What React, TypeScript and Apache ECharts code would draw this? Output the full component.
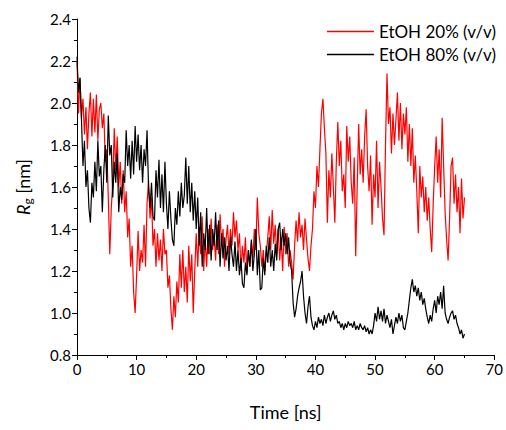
import React, { useEffect, useRef } from "react";
import * as echarts from "echarts";

// Sampling step of both trajectories (ns)
const TIME_STEP = 0.25;

// Radius of gyration, EtOH 20% (v/v), one value every 0.25 ns from 0 to 65 ns
const RG_ETOH20: number[] = [
  2.20, 1.95, 2.12, 1.93,
  2.02, 1.85, 1.98, 1.78,
  1.95, 2.05, 1.84, 2.02,
  1.86, 2.04, 1.82, 1.97,
  2.00, 1.88, 1.95, 1.72,
  1.78, 1.55, 1.28, 1.50,
  1.62, 1.88, 1.68, 1.84,
  1.60, 1.72, 1.52, 1.68,
  1.48, 1.58, 1.36, 1.45,
  1.22, 1.32, 1.10, 1.00,
  1.18, 1.39, 1.20, 1.30,
  1.24, 1.42, 1.22, 1.52,
  1.63, 1.45, 1.55, 1.32,
  1.40, 1.22, 1.38, 1.25,
  1.35, 1.20, 1.40, 1.28,
  1.30, 1.12, 1.18, 1.02,
  0.92, 1.08, 0.98, 1.15,
  1.05, 1.28, 1.12, 1.30,
  1.10, 1.22, 1.05, 1.32,
  1.15, 1.28, 1.00, 1.20,
  1.38, 1.22, 1.41, 1.28,
  1.46, 1.20, 1.35, 1.22,
  1.40, 1.28, 1.45, 1.30,
  1.38, 1.25, 1.42, 1.28,
  1.47, 1.32, 1.40, 1.22,
  1.35, 1.42, 1.28, 1.40,
  1.32, 1.48, 1.36, 1.44,
  1.30, 1.38, 1.20, 1.32,
  1.24, 1.36, 1.19, 1.30,
  1.22, 1.34, 1.26, 1.40,
  1.30, 1.55, 1.38, 1.32,
  1.22, 1.30, 1.20, 1.28,
  1.36, 1.46, 1.30, 1.49,
  1.33, 1.42, 1.28, 1.40,
  1.25, 1.36, 1.20, 1.41,
  1.28, 1.38, 1.22, 1.30,
  1.24, 1.16, 1.32, 1.44,
  1.34, 1.48, 1.36, 1.42,
  1.30, 1.45, 1.35, 1.26,
  1.20, 1.32, 1.40, 1.58,
  1.50, 1.70, 1.60, 1.78,
  1.95, 2.02, 1.88, 1.76,
  1.43, 1.68, 1.55, 1.76,
  1.60, 1.43, 1.72, 1.91,
  1.70, 1.82, 1.58, 1.66,
  1.50, 1.89, 1.72, 1.84,
  1.62, 1.52, 1.74, 1.27,
  1.60, 1.90, 1.66, 1.78,
  1.62, 1.84, 1.97, 1.70,
  1.58, 1.75, 1.42, 1.66,
  1.55, 1.82, 1.50, 1.72,
  1.60, 1.45, 1.37, 1.80,
  2.14, 1.90, 1.98, 1.76,
  1.95, 1.80, 1.92, 2.05,
  1.82, 2.00, 1.78, 1.95,
  1.85, 1.98, 1.72, 1.90,
  1.70, 1.88, 1.62, 1.75,
  1.58, 1.38, 1.70, 1.55,
  1.65, 1.48, 1.60, 1.44,
  1.55, 1.40, 1.29, 1.52,
  1.70, 1.84, 1.62, 1.78,
  1.55, 1.93, 1.70, 1.48,
  1.35, 1.25, 1.45, 1.70,
  1.74, 1.52, 1.66, 1.48,
  1.60, 1.38, 1.64, 1.45,
  1.55,
];

// Radius of gyration, EtOH 80% (v/v), one value every 0.25 ns from 0 to 65 ns
const RG_ETOH80: number[] = [
  2.22, 2.05, 2.12, 1.92,
  1.70, 1.82, 1.60, 1.68,
  1.50, 1.43, 1.62, 1.55,
  1.72, 1.58, 1.82, 1.65,
  1.70, 1.48, 1.68, 1.80,
  1.62, 1.94, 1.75, 1.80,
  1.55, 1.72, 1.62, 1.76,
  1.48, 1.60, 1.54, 1.66,
  1.62, 1.87, 1.70, 1.80,
  1.64, 1.82, 1.66, 1.89,
  1.72, 1.85, 1.68, 1.80,
  1.62, 1.78, 1.70, 1.87,
  1.60, 1.50, 1.62, 1.46,
  1.44, 1.68, 1.55, 1.73,
  1.50, 1.66, 1.48, 1.72,
  1.52, 1.40, 1.58, 1.45,
  1.35, 1.32, 1.50, 1.42,
  1.58, 1.46, 1.62, 1.50,
  1.56, 1.74, 1.52, 1.70,
  1.48, 1.62, 1.44, 1.58,
  1.40, 1.55, 1.32, 1.48,
  1.22, 1.38, 1.30, 1.50,
  1.28, 1.42, 1.25, 1.40,
  1.32, 1.48, 1.30, 1.44,
  1.22, 1.38, 1.26, 1.36,
  1.25, 1.32, 1.20, 1.36,
  1.28, 1.22, 1.34, 1.20,
  1.30, 1.18, 1.26, 1.14,
  1.12, 1.24, 1.18, 1.30,
  1.22, 1.35, 1.20, 1.28,
  1.40, 1.18, 1.30, 1.11,
  1.12, 1.26, 1.18, 1.32,
  1.24, 1.36, 1.22, 1.30,
  1.20, 1.33, 1.25, 1.40,
  1.43, 1.30, 1.40, 1.32,
  1.38, 1.28, 1.36, 1.24,
  1.20, 1.05, 0.98, 1.02,
  1.08, 1.12, 1.15, 1.20,
  1.08, 1.00, 0.95, 1.03,
  1.08, 0.98, 0.94, 0.92,
  0.96, 0.93, 0.98, 0.95,
  0.97, 0.94, 0.99, 0.95,
  0.98, 1.00, 0.96, 0.99,
  1.01, 0.97, 0.99, 0.95,
  0.96, 0.93, 0.95, 0.92,
  0.95, 0.93, 0.96, 0.94,
  0.95, 0.93, 0.96, 0.92,
  0.94, 0.92, 0.95, 0.93,
  0.92, 0.94, 0.91, 0.93,
  0.90, 0.92, 0.90, 0.94,
  1.00, 0.96, 1.03, 0.97,
  1.01, 0.96, 1.02, 0.95,
  0.99, 0.96, 0.93, 0.97,
  0.90, 0.94, 0.98, 0.95,
  1.00, 0.96, 0.99, 0.93,
  0.92, 0.96, 1.00, 1.06,
  1.12, 1.16, 1.10, 1.13,
  1.08, 1.12, 1.06, 1.10,
  1.04, 1.07, 1.02, 0.98,
  0.95, 0.99, 0.96, 1.02,
  1.06, 1.00, 1.08, 1.04,
  1.10, 1.02, 1.13, 1.00,
  0.97, 0.95, 0.98, 1.00,
  1.01, 0.97, 0.99, 0.95,
  0.93, 0.90, 0.92, 0.88,
  0.90,
];

const SERIES_NAMES = ["EtOH 20% (v/v)", "EtOH 80% (v/v)"];
const X_MIN = 0;
const X_MAX = 70;
const X_INTERVAL = 10;
const Y_MIN = 0.8;
const Y_MAX = 2.4;
const Y_INTERVAL = 0.2;

const FONT = "Lato, 'Open Sans', sans-serif";

const toPairs = (vals: number[]) => vals.map((v, i) => [i * TIME_STEP, v]);

export default function App() {
  const ref = useRef<HTMLDivElement>(null);

  useEffect(() => {
    if (!ref.current) return;
    const chart = echarts.init(ref.current, undefined, { renderer: "svg" });
    chart.setOption({
      animation: false,
      backgroundColor: "#ffffff",
      textStyle: { fontFamily: FONT },
      grid: { left: 77, right: 11, top: 19, bottom: 75, containLabel: false },
      legend: {
        orient: "vertical",
        right: 5,
        top: 18,
        icon: "rect",
        itemWidth: 47,
        itemHeight: 1.5,
        itemGap: 6,
        data: SERIES_NAMES,
        textStyle: { fontFamily: FONT, fontSize: 17, color: "#000", padding: [0, 0, 0, 0] },
      },
      xAxis: {
        type: "value",
        min: X_MIN,
        max: X_MAX,
        interval: X_INTERVAL,
        name: "Time [ns]",
        nameLocation: "middle",
        nameGap: 48,
        nameTextStyle: { fontFamily: FONT, fontSize: 18, color: "#000" },
        axisLine: { show: true, lineStyle: { color: "#000", width: 1 } },
        axisTick: { show: true, length: 5, lineStyle: { color: "#000" } },
        minorTick: { show: true, splitNumber: 2, length: 3, lineStyle: { color: "#000" } },
        splitLine: { show: false },
        axisLabel: { fontFamily: FONT, fontSize: 15, color: "#000", margin: 6 },
      },
      yAxis: {
        type: "value",
        min: Y_MIN,
        max: Y_MAX,
        interval: Y_INTERVAL,
        name: "{i|R}{s|g} [nm]",
        nameLocation: "middle",
        nameGap: 44,
        nameRotate: 90,
        nameTextStyle: {
          fontFamily: FONT,
          fontSize: 18,
          color: "#000",
          rich: {
            i: { fontFamily: FONT, fontSize: 18, fontStyle: "italic", color: "#000" },
            s: { fontFamily: FONT, fontSize: 12, color: "#000", verticalAlign: "bottom", padding: [8, 0, 0, 0] },
          },
        },
        axisLine: { show: true, lineStyle: { color: "#000", width: 1 } },
        axisTick: { show: true, length: 5, lineStyle: { color: "#000" } },
        minorTick: { show: true, splitNumber: 2, length: 3, lineStyle: { color: "#000" } },
        splitLine: { show: false },
        axisLabel: {
          fontFamily: FONT,
          fontSize: 15,
          color: "#000",
          margin: 6,
          formatter: (v: number) => v.toFixed(1),
        },
      },
      series: [
        {
          name: SERIES_NAMES[0],
          type: "line",
          data: toPairs(RG_ETOH20),
          symbol: "none",
          showSymbol: false,
          color: "#ff0000",
          lineStyle: { color: "#ff0000", width: 1.2 },
          z: 2,
        },
        {
          name: SERIES_NAMES[1],
          type: "line",
          data: toPairs(RG_ETOH80),
          symbol: "none",
          showSymbol: false,
          color: "#000000",
          lineStyle: { color: "#000000", width: 1.2 },
          z: 3,
        },
      ],
    });
    return () => chart.dispose();
  }, []);

  return (
    <div
      ref={ref}
      style={{ position: "fixed", left: 0, top: 0, width: 506, height: 430, background: "#fff" }}
    />
  );
}
